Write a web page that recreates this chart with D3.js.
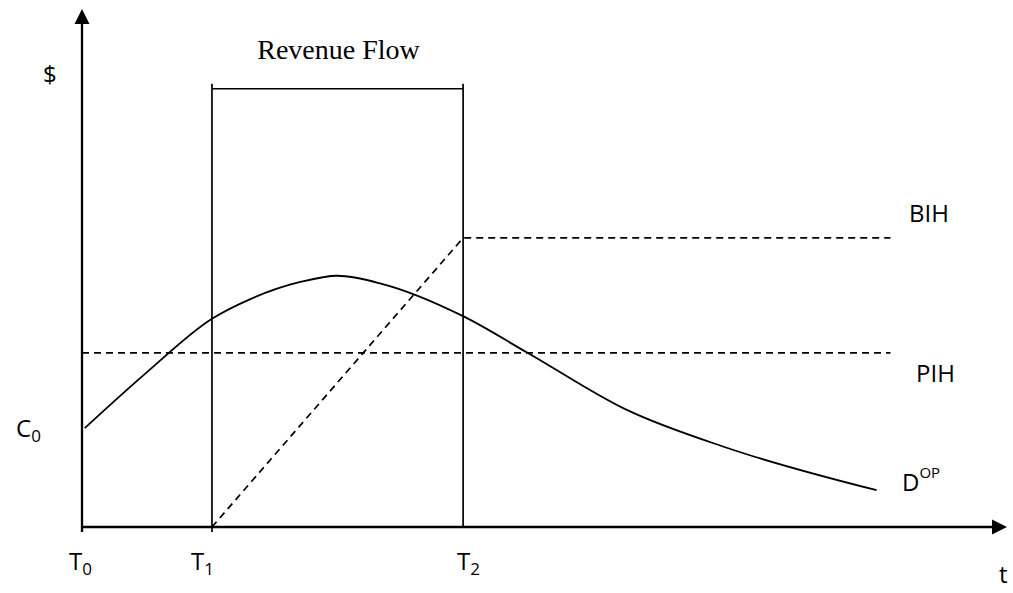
<!DOCTYPE html>
<html lang="en">
<head>
<meta charset="UTF-8">
<title>Revenue Flow</title>
<script src="https://d3js.org/d3.v7.min.js"></script>
<style>
html, body { margin: 0; padding: 0; background: white; }
.lbl { font-family: 'Open Sans', 'Noto Sans', sans-serif; font-size: 24px; fill: #000; }
.serif { font-family: 'Liberation Serif', 'Times New Roman', serif; font-size: 28px; fill: #000; }
</style>
</head>
<body>
<div id="chart"></div>
<script>

// --------------------------------------
// Data (arbitrary units, 0-100 on both axes)
// --------------------------------------

const demandT = [0.3, 7.03, 14.05, 18.2, 23.6, 27.6, 32.5, 41.2, 48.2, 58.9, 69.7, 85.9];
const demandV = [19.1, 29.9, 40.2, 44.0, 47.3, 48.5, 46.9, 40.7, 33.6, 22.6, 15.3, 7.1];

const T1 = 14.05;
const T2 = 41.2;
const horizonEnd = 87.4;
const pihLevel = 33.6;
const bihLevel = 55.8;
const revenueLevel = 84.6;

// --------------------------------------
// Size and scales
// --------------------------------------

let totalWidth = 1013;
let totalHeight = 593;

let svg = d3.select('#chart')
  .append("svg")
  .attr("width", totalWidth)
  .attr("height", totalHeight);

let x = d3.scaleLinear().domain([0, 100]).range([82, 1007]);
let y = d3.scaleLinear().domain([0, 100]).range([527, 9]);

// --------------------------------------
// Axes with arrowheads
// --------------------------------------

svg.append("line")
  .attr("x1", x(0)).attr("x2", x(100) - 10)
  .attr("y1", y(0)).attr("y2", y(0))
  .attr("stroke", "#000").attr("stroke-width", 2.3);

svg.append("line")
  .attr("x1", x(0)).attr("x2", x(0))
  .attr("y1", y(0) + 5).attr("y2", y(100) + 10)
  .attr("stroke", "#000").attr("stroke-width", 2.3);

svg.append("path")
  .attr("d", `M${x(100)},${y(0)} L${x(100) - 15},${y(0) - 7.5} L${x(100) - 15},${y(0) + 7.5} Z`)
  .attr("fill", "#000");

svg.append("path")
  .attr("d", `M${x(0)},${y(100)} L${x(0) - 7.5},${y(100) + 15} L${x(0) + 7.5},${y(100) + 15} Z`)
  .attr("fill", "#000");

// --------------------------------------
// Revenue flow bracket
// --------------------------------------

svg.append("line")
  .attr("x1", x(T1)).attr("x2", x(T1))
  .attr("y1", y(revenueLevel) - 5).attr("y2", y(0) + 5)
  .attr("stroke", "#000").attr("stroke-width", 1.7);

svg.append("line")
  .attr("x1", x(T2)).attr("x2", x(T2))
  .attr("y1", y(revenueLevel) - 5).attr("y2", y(0))
  .attr("stroke", "#000").attr("stroke-width", 1.7);

svg.append("line")
  .attr("x1", x(T1)).attr("x2", x(T2))
  .attr("y1", y(revenueLevel)).attr("y2", y(revenueLevel))
  .attr("stroke", "#000").attr("stroke-width", 1.7);

svg.append("text")
  .attr("class", "serif")
  .attr("x", (x(T1) + x(T2)) / 2 + 1)
  .attr("y", 59)
  .attr("text-anchor", "middle")
  .text("Revenue Flow");

// --------------------------------------
// Dashed lines: BIH and PIH
// --------------------------------------

let bih = [[T1, 0], [T2, bihLevel], [horizonEnd, bihLevel]];

svg.append("path")
  .datum(bih)
  .attr("d", d3.line().x(d => x(d[0])).y(d => y(d[1])))
  .attr("fill", "none")
  .attr("stroke", "#000")
  .attr("stroke-width", 1.7)
  .attr("stroke-dasharray", "7,5");

svg.append("line")
  .attr("x1", x(0)).attr("x2", x(horizonEnd))
  .attr("y1", y(pihLevel)).attr("y2", y(pihLevel))
  .attr("stroke", "#000")
  .attr("stroke-width", 1.7)
  .attr("stroke-dasharray", "7,5");

// --------------------------------------
// Demand curve
// --------------------------------------

let demand = demandT.map((t, i) => [t, demandV[i]]);

svg.append("path")
  .datum(demand)
  .attr("d", d3.line().curve(d3.curveMonotoneX).x(d => x(d[0])).y(d => y(d[1])))
  .attr("fill", "none")
  .attr("stroke", "#000")
  .attr("stroke-width", 1.8);

// --------------------------------------
// Labels
// --------------------------------------

function label(px, py, main, sub, sup) {
  let t = svg.append("text").attr("class", "lbl").attr("x", px).attr("y", py);
  t.append("tspan").text(main);
  if (sub) t.append("tspan").attr("font-size", 17).attr("dy", 5).text(sub);
  if (sup) t.append("tspan").attr("font-size", 15).attr("dy", -13).text(sup);
  return t;
}

label(43, 83, "$");
label(16, 437, "C", "0");
label(69, 570, "T", "0");
label(191, 570, "T", "1");
label(457, 570, "T", "2");
label(999, 583, "t");
label(909, 222, "BIH");
label(916, 382, "PIH");
label(902, 491, "D", null, "OP");

</script>
</body>
</html>
